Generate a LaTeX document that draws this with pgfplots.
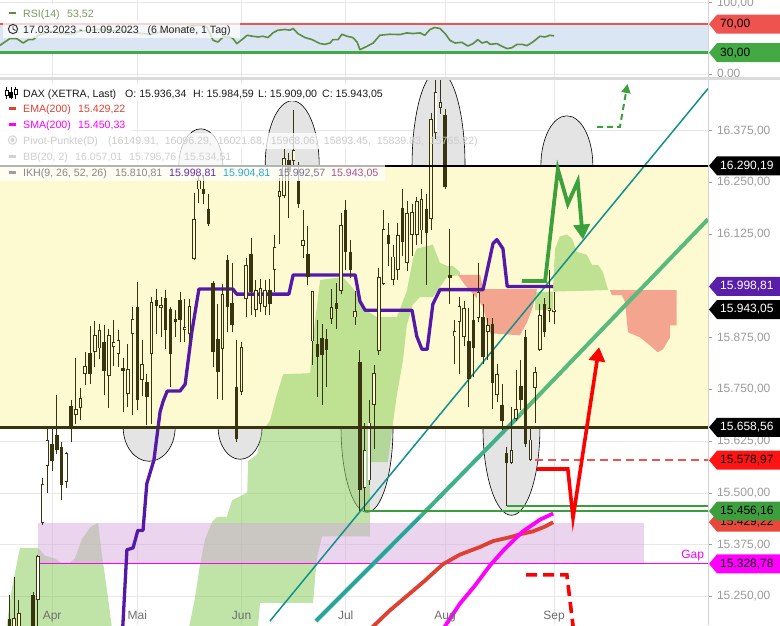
\documentclass[border=0pt]{standalone}
\usepackage{fontspec}
\setmainfont{Liberation Sans}
\usepackage{pgfplots}
\pgfplotsset{compat=1.18}
\usetikzlibrary{arrows.meta}
\definecolor{band}{RGB}{253,250,210}
\definecolor{cdl}{RGB}{55,52,15}
\definecolor{ikhp}{RGB}{85,25,170}
\definecolor{cloudg}{RGB}{140,205,95}
\definecolor{cloudr}{RGB}{240,120,110}
\definecolor{lav}{RGB}{214,170,222}
\definecolor{tealA}{RGB}{15,145,140}
\definecolor{tealB}{RGB}{38,166,154}
\definecolor{tealC}{RGB}{62,176,138}
\definecolor{tealD}{RGB}{88,186,124}
\definecolor{ema}{RGB}{222,65,52}
\definecolor{mag}{RGB}{255,0,255}
\definecolor{gline}{RGB}{58,158,58}
\definecolor{ellg}{RGB}{228,228,228}
\definecolor{tickg}{RGB}{155,155,155}
\definecolor{gridg}{RGB}{232,232,232}
\definecolor{rsiblue}{RGB}{218,230,243}
\definecolor{rsired}{RGB}{239,83,80}
\definecolor{rsigreen}{RGB}{67,170,67}
\definecolor{rsiline}{RGB}{95,140,65}
\definecolor{arrg}{RGB}{60,160,60}
\definecolor{tagpurple}{RGB}{90,31,168}
\definecolor{tagred}{RGB}{255,20,20}
\definecolor{tagema}{RGB}{232,71,58}
\definecolor{taggreen}{RGB}{61,158,61}
\definecolor{monthg}{RGB}{110,110,110}
\newcommand\lf{\fontsize{10.6}{12}\selectfont}
\newcommand\tf{\fontsize{12}{14}\selectfont}
\pgfplotsset{
 wk/.style={draw=cdl, line width=0.9pt, forget plot},
 bdf/.style={draw=cdl, line width=3.4pt, forget plot},
 bdo/.style={draw=cdl, line width=3.6pt, forget plot},
 bdi/.style={draw=band, line width=1.8pt, shorten <=0.9pt, shorten >=0.9pt, forget plot},
 bdw/.style={draw=white, line width=1.8pt, shorten <=0.9pt, shorten >=0.9pt, forget plot},
}
% i, Open, High, Low, Close
\newcommand\cu[5]{\addplot[wk] coordinates {(#1,#3) (#1,#4)};\addplot[bdo] coordinates {(#1,#2) (#1,#5)};\addplot[bdi] coordinates {(#1,#2) (#1,#5)};}
\newcommand\cuw[5]{\addplot[wk] coordinates {(#1,#3) (#1,#4)};\addplot[bdo] coordinates {(#1,#2) (#1,#5)};\addplot[bdw] coordinates {(#1,#2) (#1,#5)};}
\newcommand\cd[5]{\addplot[wk] coordinates {(#1,#3) (#1,#4)};\addplot[bdf] coordinates {(#1,#2) (#1,#5)};}
\newcommand\tagbox[4]{%
 \fill[#2] ([xshift=1pt]#1) -- ++(8pt,9.5pt) -- ++(80pt,0) -- ++(0,-19pt) -- ++(-80pt,0) -- cycle;
 \node[anchor=west, text=#3, font=\tf, inner sep=0pt] at ([xshift=12pt]#1) {#4};}
\begin{document}
\begin{tikzpicture}
\path[use as bounding box] (0,0) rectangle (780pt,-625pt);
% ================= MAIN PANEL =================
\begin{axis}[
 anchor=north west, at={(0pt,-80pt)},
 scale only axis, width=708pt, height=545pt,
 xmin=0, xmax=149.5, ymin=15180.9, ymax=16497.5,
 clip mode=individual,
 axis line style={draw=none},
 xtick={11,29,51,73,94,117}, xticklabels={,,,,,},
 xtick style={draw=none},
 ytick={15250,15375,15500,15625,15750,15875,16000,16125,16250,16375,16500},
 yticklabels={{15.250,00},{15.375,00},{15.500,00},{15.625,00},{15.750,00},{15.875,00},{},{16.125,00},{16.250,00},{16.375,00},{16.500,00}},
 ytick pos=right, yticklabel pos=right,
 tick align=outside, major tick length=4pt,
 ytick style={tickg, line width=0.6pt},
 yticklabel style={font=\tf, text=tickg, xshift=1.5pt},
 grid=major, major grid style={gridg, line width=0.7pt},
 scaled y ticks=false,
]
% ellipses
\begin{scope}
\clip (rel axis cs:0,0) rectangle (rel axis cs:1,1);
\filldraw[fill=ellg, draw=black, line width=0.6pt] (axis cs:42.4,16290.19) ellipse [x radius=22pt, y radius=37pt];
\filldraw[fill=ellg, draw=black, line width=0.6pt] (axis cs:61.7,16290.19) ellipse [x radius=27pt, y radius=65pt];
\filldraw[fill=ellg, draw=black, line width=0.6pt] (axis cs:92.6,16290.19) ellipse [x radius=26.5pt, y radius=95pt];
\filldraw[fill=ellg, draw=black, line width=0.6pt] (axis cs:119.7,16290.19) ellipse [x radius=26pt, y radius=50pt];
\filldraw[fill=ellg, draw=black, line width=0.6pt] (axis cs:31.5,15658.56) ellipse [x radius=26pt, y radius=34pt];
\filldraw[fill=ellg, draw=black, line width=0.6pt] (axis cs:50.7,15658.56) ellipse [x radius=22pt, y radius=32pt];
\filldraw[fill=ellg, draw=black, line width=0.6pt] (axis cs:77.5,15658.56) ellipse [x radius=26pt, y radius=85pt];
\filldraw[fill=ellg, draw=black, line width=0.6pt] (axis cs:108.0,15658.56) ellipse [x radius=28.5pt, y radius=88pt];
\end{scope}
% yellow band
\addplot[fill=band, draw=none, forget plot] coordinates {(0,15658.56) (149.5,15658.56) (149.5,16290.19) (0,16290.19)} -- cycle;
% ichimoku cloud
\addplot[fill=cloudg, fill opacity=0.55, draw=none, forget plot] coordinates {(1.06,15150) (2.53,15271.6) (4.22,15367.2) (8.02,15367.2) (9.5,15348.5) (11.6,15341.5) (13.1,15329.8) (14.4,15327.5) (15.8,15341.5) (17.3,15388.3) (19.0,15416.4) (20.7,15428.2) (21.5,15353.2) (22.8,15248.4) (23.9,15150)} -- cycle;
\addplot[fill=cloudg, fill opacity=0.55, draw=none, forget plot] coordinates {(39.5,15150) (41.2,15248.4) (42.2,15325.2) (43.3,15388.3) (44.8,15430.5) (45.8,15442.2) (47.9,15442.2) (49.0,15482.3) (50.7,15491.7) (52.2,15501.2) (52.4,15576.8) (54.3,15593.4) (55.3,15648.1) (57.0,15674.3) (58.4,15735) (59.8,15786.8) (65.5,15789.2) (66.1,15876.0) (67.6,16014.3) (72.4,16021.6) (74.3,15997.3) (76.0,15973.0) (76.6,15946.2) (79.6,15924.4) (83.8,15924.4) (85.9,15987.5) (87.2,16065.5) (88.0,16090.0) (91.4,16099.9) (92.9,16055.8) (94.4,16048.4) (95.6,16048.4) (97.1,16033.8) (97.1,16026.5) (94.4,16021.6) (91.4,15973.0) (88.7,15973.0) (87.2,15956.0) (85.9,15905.0) (85.1,15820.5) (83.8,15736.4) (83.0,15669.5) (81.9,15574.4) (78.1,15574.4) (78.1,15395) (68.0,15395) (66.9,15341.5) (66.1,15234.5) (54.9,15234.5) (54.3,15150)} -- cycle;
\addplot[fill=cloudr, fill opacity=0.65, draw=none, forget plot] coordinates {(96.7,16026.5) (101.4,16026.5) (102.0,15992.4) (113.4,15992.4) (112.5,15948.7) (111.3,15912.3) (109.8,15880.8) (103.5,15885.7) (102.8,15912.3) (102.0,15948.7) (100.5,15973.0) (98.2,16002.1)} -- cycle;
\addplot[fill=cloudg, fill opacity=0.55, draw=none, forget plot] coordinates {(113.0,15985.1) (113.0,15941.3) (116.8,15941.3) (116.8,16002.1) (117.2,16090.0) (118.2,16119.4) (119.7,16124.4) (120.8,16114.5) (121.8,16082.7) (123.9,16075.3) (125.0,16050.9) (126.3,16050.9) (127.3,16033.8) (128.4,15990.0)} -- cycle;
\addplot[fill=cloudr, fill opacity=0.65, draw=none, forget plot] coordinates {(128.8,15990.0) (142.9,15990.0) (142.9,15905.0) (141.5,15905.0) (141.5,15876.0) (140.0,15847.0) (138.9,15839.8) (137.2,15856.7) (135.1,15876.0) (132.6,15888.1) (132.0,15960.8) (131.3,15977.8) (129.2,15977.8)} -- cycle;
% gap zone
\addplot[fill=lav, fill opacity=0.5, draw=none, forget plot] coordinates {(8,15327.5) (136,15327.5) (136,15428.2) (8,15428.2)} -- cycle;
\addplot[mag, line width=1pt, forget plot] coordinates {(8,15328.78) (149.5,15328.78)};
% trend lines
\addplot[tealA, line width=1.5pt, forget plot] coordinates {(57.0,15190.4) (149.5,16476.7)};
\addplot[tealB, line width=4pt, forget plot] coordinates {(66.7,15190.4) (88.7,15442.2)};
\addplot[tealC, line width=4pt, forget plot] coordinates {(88.7,15442.2) (109.8,15688.6)};
\addplot[tealD, line width=4pt, forget plot] coordinates {(109.8,15688.6) (149.5,16161.2)};
% EMA / SMA
\addplot[ema, line width=3.8pt, line join=round, forget plot] coordinates {(78.1,15170) (82.3,15215.9) (86.6,15257.7) (89.7,15287.9) (93.5,15327.5) (97.1,15350.9) (101.4,15369.6) (104.1,15383.6) (107.7,15393.0) (109.8,15400.0) (112.5,15407.0) (115.1,15418.7) (116.8,15429.22)};
\addplot[mag, line width=3.8pt, line join=round, forget plot] coordinates {(93.5,15170) (97.1,15232.2) (100.3,15276.3) (103.5,15325.2) (106.6,15364.9) (110.4,15407.0) (114.0,15435.2) (116.8,15450.33)};
% IKH purple
\addplot[ikhp, line width=3.3pt, line join=round, forget plot] coordinates {(25.8,15150) (26.8,15362.6) (28.1,15367.2) (29.1,15409.4) (30.2,15409.4) (31.0,15522.4) (32.5,15579.2) (33.8,15695.8) (34.4,15719.7) (35.3,15746.0) (38.0,15746.0) (39.1,15762.8) (40.5,15888.1) (42.0,15992.4) (49.2,15992.4) (50.0,15980.2) (61.0,15980.2) (61.9,16026.5) (75.0,16026.5) (76.0,15963.2) (77.1,15941.3) (87.0,15941.3) (88.0,15878.4) (89.1,15847.0) (90.2,15847.0) (91.4,15956.0) (92.9,15991.1) (102.0,15991.1) (104.1,16102.3) (104.9,16112.1) (106.2,16090.0) (107.1,15998.8) (116.8,15998.81)};
% candles
\cd{2}{15196}{15253}{15050}{15120}
\cu{3}{15150}{15297}{15100}{15197}
\cu{4}{15150}{15241}{15120}{15209}
\cd{7}{15253}{15261}{15100}{15170}
\cuw{8}{15241}{15351}{15150}{15348}
\cuw{9}{15428}{15537}{15423}{15522}
\cuw{10}{15565}{15655}{15499}{15627}
\cd{11}{15619}{15655}{15553}{15577}
\cd{12}{15639}{15736}{15593}{15603}
\cd{13}{15610}{15624}{15482}{15518}
\cuw{14}{15527}{15600}{15511}{15596}
\cd{15}{15710}{15724}{15624}{15655}
\cu{16}{15689}{15825}{15667}{15703}
\cu{17}{15705}{15753}{15677}{15729}
\cu{18}{15787}{15840}{15760}{15806}
\cd{19}{15837}{15903}{15763}{15787}
\cu{20}{15840}{15915}{15804}{15881}
\cu{21}{15849}{15907}{15823}{15893}
\cd{22}{15864}{15905}{15736}{15794}
\cu{23}{15782}{15895}{15705}{15881}
\cu{24}{15852}{15917}{15806}{15864}
\cu{25}{15835}{15893}{15804}{15869}
\cd{26}{15801}{15825}{15696}{15794}
\cu{27}{15739}{15859}{15708}{15799}
\cu{28}{15883}{15949}{15689}{15920}
\cd{29}{15949}{16009}{15701}{15725}
\cu{30}{15772}{15869}{15734}{15811}
\cd{31}{15768}{15787}{15665}{15732}
\cu{32}{15835}{15973}{15667}{15961}
\cd{33}{15966}{15992}{15883}{15951}
\cu{34}{15946}{15973}{15876}{15954}
\cd{35}{15971}{15990}{15847}{15893}
\cd{36}{15944}{15949}{15756}{15835}
\cd{37}{15920}{15941}{15876}{15912}
\cd{38}{15966}{15985}{15864}{15917}
\cu{39}{15893}{15968}{15864}{15900}
\cu{40}{15883}{15968}{15859}{15951}
\cu{41}{16066}{16225}{16063}{16161}
\cu{42}{16233}{16270}{16201}{16255}
\cd{43}{16235}{16262}{16198}{16223}
\cd{44}{16186}{16223}{16144}{16149}
\cd{45}{16007}{16012}{15804}{15840}
\cd{46}{15871}{15956}{15727}{15792}
\cu{47}{15847}{16005}{15725}{15980}
\cd{48}{16063}{16075}{15888}{15949}
\cd{49}{15958}{16056}{15888}{15905}
\cd{50}{15756}{15869}{15622}{15631}
\cu{51}{15744}{15864}{15736}{15852}
\cu{52}{15968}{16068}{15924}{16051}
\cd{53}{16078}{16115}{15929}{15985}
\cu{54}{15941}{16014}{15924}{15990}
\cu{55}{15956}{16017}{15937}{15995}
\cu{56}{15949}{16014}{15929}{15990}
\cd{57}{15990}{16017}{15929}{15956}
\cu{58}{16039}{16124}{15985}{16095}
\cu{59}{16215}{16260}{16102}{16230}
\cu{60}{16218}{16332}{16213}{16310}
\cd{61}{16305}{16322}{16164}{16275}
\cu{62}{16302}{16424}{16287}{16329}
\cd{63}{16253}{16300}{16188}{16198}
\cu{64}{16097}{16183}{16068}{16110}
\cd{65}{16078}{16144}{16002}{16022}
\cu{66}{15866}{15988}{15809}{15988}
\cd{67}{15859}{15917}{15732}{15828}
\cd{68}{15874}{15908}{15713}{15833}
\cd{69}{15871}{15895}{15756}{15845}
\cu{70}{15920}{15992}{15908}{15949}
\cd{71}{15958}{16007}{15895}{15944}
\cu{72}{15988}{16176}{15980}{16147}
\cd{73}{16183}{16208}{16039}{16083}
\cd{74}{16083}{16110}{16020}{16039}
\cu{75}{15924}{15988}{15905}{15939}
\cd{76}{15816}{15845}{15456}{15506}
\cuw{77}{15511}{15670}{15456}{15603}
\cuw{78}{15530}{15725}{15518}{15670}
\cu{79}{15713}{15809}{15605}{15789}
\cu{80}{15842}{16044}{15833}{16022}
\cu{81}{16005}{16183}{16002}{16137}
\cd{82}{16124}{16151}{16048}{16102}
\cu{83}{16014}{16100}{16002}{16071}
\cu{84}{16039}{16151}{16014}{16124}
\cd{85}{16188}{16235}{16073}{16107}
\cu{86}{16056}{16206}{16036}{16176}
\cu{87}{16124}{16198}{16073}{16179}
\cu{88}{16124}{16215}{16100}{16206}
\cu{89}{16134}{16235}{16102}{16211}
\cd{90}{16186}{16223}{16002}{16129}
\cu{91}{16161}{16417}{16134}{16404}
\cuw{92}{16369}{16530}{16354}{16469}
\cuw{93}{16429}{16520}{16416}{16444}
\cd{94}{16414}{16427}{16235}{16240}
\cd{95}{16027}{16137}{15956}{16019}
\cu{96}{15878}{15917}{15811}{15891}
\cu{97}{15912}{15973}{15787}{15951}
\cu{98}{15876}{15963}{15854}{15946}
\cd{99}{15866}{15946}{15708}{15775}
\cd{100}{15917}{15980}{15780}{15849}
\cu{101}{15922}{16056}{15912}{15985}
\cd{102}{15924}{15956}{15811}{15828}
\cu{103}{15888}{15922}{15821}{15905}
\cd{104}{15908}{15922}{15703}{15765}
\cu{105}{15736}{15811}{15720}{15787}
\cd{106}{15713}{15763}{15653}{15674}
\cd{107}{15596}{15612}{15468}{15572}
\cuw{108}{15572}{15708}{15570}{15603}
\cu{109}{15679}{15796}{15674}{15703}
\cd{110}{15758}{15821}{15701}{15725}
\cd{111}{15876}{15893}{15612}{15617}
\cuw{112}{15579}{15662}{15577}{15629}
\cu{113}{15753}{15804}{15670}{15792}
\cu{114}{15845}{15956}{15842}{15929}
\cd{115}{15956}{15971}{15876}{15888}
\cu{116}{15939}{16039}{15912}{15946}
\cu{117}{15936.34}{15984.59}{15909.00}{15943.05}
% band borders
\addplot[black, line width=2.6pt, forget plot] coordinates {(0,16290.19) (149.5,16290.19)};
\addplot[cdl, line width=3pt, forget plot] coordinates {(0,15658.56) (149.5,15658.56)};
% horizontal markers
\addplot[gline, line width=2.6pt, forget plot] coordinates {(77,15456.16) (149.5,15456.16)};
\addplot[gline, line width=2pt, forget plot] coordinates {(107,15468) (149.5,15468)};
\addplot[rsired, line width=2pt, dash pattern=on 8pt off 5pt, forget plot] coordinates {(113,15578.97) (149.5,15578.97)};
% arrows
\addplot[arrg, line width=3.8pt, line join=miter, -{Triangle[length=15pt,width=16pt]}, forget plot] coordinates {(110.2,16011.8) (115.1,16011.8) (117.8,16282.2) (119.9,16198.2) (122.0,16252.5) (123.1,16112.1)};
\addplot[arrg, line width=2pt, dash pattern=on 6pt off 4pt, -{Triangle[length=9pt,width=9pt]}, forget plot] coordinates {(126.1,16384.1) (130.9,16384.1) (132.5,16488)};
\addplot[red, line width=3.6pt, line join=miter, -{Triangle[length=14pt,width=16pt]}, forget plot] coordinates {(113.4,15557.8) (119.9,15557.8) (121.0,15439.9) (126.5,15852)};
\addplot[red, line width=3.6pt, dash pattern=on 11pt off 6pt, forget plot] coordinates {(111.1,15301.9) (119.7,15301.9) (121.2,15160)};
% right axis line
\draw[gridg!80!gray, line width=0.8pt] (rel axis cs:1,0) -- (rel axis cs:1,1);
% month labels
\node[anchor=base, font=\tf, text=monthg, inner sep=0pt] at ([yshift=6pt]axis cs:11,15180.9) {Apr};
\node[anchor=base, font=\tf, text=monthg, inner sep=0pt] at ([yshift=6pt]axis cs:29,15180.9) {Mai};
\node[anchor=base, font=\tf, text=monthg, inner sep=0pt] at ([yshift=6pt]axis cs:51,15180.9) {Jun};
\node[anchor=base, font=\tf, text=monthg, inner sep=0pt] at ([yshift=6pt]axis cs:73,15180.9) {Jul};
\node[anchor=base, font=\tf, text=monthg, inner sep=0pt] at ([yshift=6pt]axis cs:94,15180.9) {Aug};
\node[anchor=base, font=\tf, text=monthg, inner sep=0pt] at ([yshift=6pt]axis cs:117,15180.9) {Sep};
\node[anchor=south east, font=\tf, text=mag, inner sep=0pt] at ([yshift=3pt]axis cs:148.7,15328.78) {Gap};
% tag anchors
\coordinate (tA) at (axis cs:149.5,16290.19);
\coordinate (tB) at (axis cs:149.5,15998.81);
\coordinate (tC) at (axis cs:149.5,15943.05);
\coordinate (tD) at (axis cs:149.5,15658.56);
\coordinate (tE) at (axis cs:149.5,15578.97);
\coordinate (tF) at (axis cs:149.5,15429.22);
\coordinate (tG) at (axis cs:149.5,15456.16);
\coordinate (tH) at (axis cs:149.5,15328.78);
\end{axis}
% ================= RSI PANEL =================
\begin{axis}[
 anchor=north west, at={(0pt,0pt)},
 scale only axis, width=708pt, height=76.5pt,
 xmin=0, xmax=149.5, ymin=-3.5, ymax=103.9,
 clip mode=individual,
 axis line style={draw=none},
 xtick={11,29,51,73,94,117}, xticklabels={,,,,,},
 xtick style={draw=none},
 ytick={0,100}, yticklabels={{0,00},{100,00}},
 ytick pos=right, yticklabel pos=right,
 tick align=outside, major tick length=4pt,
 ytick style={tickg, line width=0.6pt},
 yticklabel style={font=\tf, text=tickg, xshift=1.5pt},
 grid=major, major grid style={gridg, line width=0.7pt},
]
\addplot[fill=rsiblue, draw=none, forget plot] coordinates {(0,30) (149.5,30) (149.5,70) (0,70)} -- cycle;
\addplot[rsired, line width=2pt, forget plot] coordinates {(0,70) (149.5,70)};
\addplot[rsigreen, line width=2.6pt, forget plot] coordinates {(0,30) (149.5,30)};
\addplot[rsiline, line width=1.6pt, line join=round, forget plot] coordinates {(0,40.3) (2.1,49.8) (3.5,49.8) (4.9,43.5) (6.0,48.3) (7.0,48.3) (8.1,54.4) (9.5,57.2) (11.0,60.1) (12.7,57.2) (14.8,55.8) (16.9,60.1) (19.0,61.5) (21.1,62.9) (23.2,60.1) (25.3,61.5) (27.4,58.7) (29.6,57.2) (31.7,55.8) (33.8,58.7) (35.9,60.1) (38.0,61.5) (40.1,67.1) (42.2,68.6) (43.7,65.7) (45.0,47.3) (46.0,44.9) (47.1,52.0) (48.6,52.0) (49.2,49.8) (50.0,42.7) (51.1,48.3) (52.2,54.4) (53.4,53.0) (54.5,52.0) (55.5,53.0) (56.6,51.2) (57.6,57.7) (58.7,61.5) (60.2,62.5) (61.2,61.5) (61.9,63.9) (62.9,56.8) (64.4,51.2) (65.9,48.3) (67.6,42.7) (68.6,41.7) (69.7,43.5) (70.3,48.3) (71.4,48.3) (72.2,55.8) (73.3,53.0) (74.5,51.2) (75.4,44.9) (76.0,34.2) (77.5,38.9) (78.8,43.5) (80.2,54.4) (82.3,55.8) (84.5,55.4) (85.9,57.7) (87.2,56.8) (88.7,57.7) (89.7,54.4) (90.8,62.5) (91.8,65.3) (92.9,63.9) (94.0,56.8) (95.0,47.3) (96.1,43.5) (97.5,44.5) (98.8,39.3) (99.9,42.7) (100.9,48.3) (101.8,43.5) (102.8,45.5) (103.5,41.7) (104.9,42.7) (106.0,38.9) (107.1,35.6) (108.1,37.0) (109.2,41.7) (110.2,41.7) (111.3,39.9) (112.5,44.9) (114.0,53.0) (115.1,52.0) (116.1,54.4) (117.0,53.52)};
\draw[gridg!80!gray, line width=0.8pt] (rel axis cs:1,0) -- (rel axis cs:1,1);
\coordinate (rA) at (axis cs:149.5,70);
\coordinate (rB) at (axis cs:149.5,30);
\end{axis}
% separator between panels
\fill[gray!28] (0pt,-76.5pt) rectangle (780pt,-80pt);
% RSI legend boxes
\fill[white, opacity=0.9] (3pt,-4pt) rectangle (100pt,-21pt);
\fill[white, opacity=0.75] (3pt,-21pt) rectangle (240pt,-37.5pt);
\fill[rsiline] (9pt,-11.8pt) rectangle (16pt,-14.4pt);
\node[anchor=base west, font=\lf, text=rsiline!85!white, inner sep=0pt] at (23pt,-17pt) {RSI(14)};
\node[anchor=base west, font=\lf, text=rsiline!85!white, inner sep=0pt] at (67pt,-17pt) {53,52};
\draw[black!80, line width=1pt] (13pt,-29pt) circle (4.6pt);
\draw[black!80, line width=0.9pt] (13pt,-26pt) -- (13pt,-29pt) -- (15.5pt,-30.5pt);
\node[anchor=base west, font=\lf, text=black!85, inner sep=0pt] at (23pt,-33pt) {17.03.2023 - 01.09.2023\ \ \ (6 Monate, 1 Tag)};
\tagbox{rA}{rsired}{black}{70,00}
\tagbox{rB}{rsigreen}{black}{30,00}
% main legend boxes
\fill[white, opacity=0.9] (0pt,-84pt) rectangle (395pt,-101pt);
\fill[white, opacity=0.9] (0pt,-101pt) rectangle (131pt,-117pt);
\fill[white, opacity=0.9] (0pt,-117pt) rectangle (133pt,-133pt);
\fill[white, opacity=0.75] (0pt,-133pt) rectangle (395pt,-149pt);
\fill[white, opacity=0.75] (0pt,-149pt) rectangle (237pt,-165pt);
\fill[white, opacity=0.7] (0pt,-165pt) rectangle (385pt,-181pt);
% candle icon
\draw[black, line width=0.8pt] (6.5pt,-87pt) -- (6.5pt,-99pt) (11pt,-87pt) -- (11pt,-99pt) (15.5pt,-87pt) -- (15.5pt,-99pt);
\filldraw[fill=white, draw=black, line width=0.8pt] (5pt,-90pt) rectangle (8pt,-95pt);
\filldraw[fill=black, draw=black, line width=0.8pt] (9.5pt,-92pt) rectangle (12.5pt,-97pt);
\filldraw[fill=white, draw=black, line width=0.8pt] (14pt,-89pt) rectangle (17pt,-94pt);
\node[anchor=base west, font=\lf, text=black!90, inner sep=0pt] at (23pt,-97pt) {DAX (XETRA, Last)};
\node[anchor=base west, font=\lf, text=black!90, inner sep=0pt] at (125pt,-97pt) {O: 15.936,34};
\node[anchor=base west, font=\lf, text=black!90, inner sep=0pt] at (193pt,-97pt) {H: 15.984,59};
\node[anchor=base west, font=\lf, text=black!90, inner sep=0pt] at (258pt,-97pt) {L: 15.909,00};
\node[anchor=base west, font=\lf, text=black!90, inner sep=0pt] at (322pt,-97pt) {C: 15.943,05};
\fill[ema] (9pt,-107.3pt) rectangle (16pt,-110pt);
\node[anchor=base west, font=\lf, text=ema, inner sep=0pt] at (23pt,-112.5pt) {EMA(200)};
\node[anchor=base west, font=\lf, text=ema, inner sep=0pt] at (78pt,-112.5pt) {15.429,22};
\fill[mag] (9pt,-123pt) rectangle (16pt,-125.7pt);
\node[anchor=base west, font=\lf, text=mag, inner sep=0pt] at (23pt,-128pt) {SMA(200)};
\node[anchor=base west, font=\lf, text=mag, inner sep=0pt] at (78pt,-128pt) {15.450,33};
\draw[gray!35, line width=1pt] (12.5pt,-140pt) circle (4.2pt);
\fill[gray!35] (12.5pt,-140pt) circle (2pt);
\node[anchor=base west, font=\lf, text=gray!40, inner sep=0pt] at (23pt,-144pt) {Pivot-Punkte(D)};
\node[anchor=base west, font=\lf, text=gray!40, inner sep=0pt] at (108pt,-144pt) {(16149.91,\ \ 16096.29,\ \ 16021.68,\ \ 15968.06,\ \ 15893.45,\ \ 15839.83,\ \ 15765.22)};
\fill[gray!35] (9pt,-155.3pt) rectangle (16pt,-158pt);
\node[anchor=base west, font=\lf, text=gray!38, inner sep=0pt] at (23pt,-160.5pt) {BB(20, 2)};
\node[anchor=base west, font=\lf, text=gray!38, inner sep=0pt] at (75pt,-160.5pt) {16.057,01};
\node[anchor=base west, font=\lf, text=gray!38, inner sep=0pt] at (129pt,-160.5pt) {15.795,76};
\node[anchor=base west, font=\lf, text=gray!38, inner sep=0pt] at (184pt,-160.5pt) {15.534,51};
\fill[gray!75] (9pt,-171pt) rectangle (16pt,-173.7pt);
\node[anchor=base west, font=\lf, text=gray!95, inner sep=0pt] at (23pt,-176pt) {IKH(9, 26, 52, 26)};
\node[anchor=base west, font=\lf, text=gray!95, inner sep=0pt] at (115pt,-176pt) {15.810,81};
\node[anchor=base west, font=\lf, text={rgb,255:red,100;green,40;blue,185}, inner sep=0pt] at (169pt,-176pt) {15.998,81};
\node[anchor=base west, font=\lf, text={rgb,255:red,40;green,170;blue,210}, inner sep=0pt] at (223pt,-176pt) {15.904,81};
\node[anchor=base west, font=\lf, text={rgb,255:red,120;green,110;blue,150}, inner sep=0pt] at (278pt,-176pt) {15.992,57};
\node[anchor=base west, font=\lf, text={rgb,255:red,170;green,80;blue,150}, inner sep=0pt] at (331pt,-176pt) {15.943,05};
% price tags
\tagbox{tA}{black}{white}{16.290,19}
\tagbox{tB}{tagpurple}{white}{15.998,81}
\tagbox{tC}{black}{white}{15.943,05}
\tagbox{tD}{black}{white}{15.658,56}
\tagbox{tE}{tagred}{black}{15.578,97}
\tagbox{tF}{tagema}{black}{15.429,22}
\tagbox{tG}{taggreen}{black}{15.456,16}
\tagbox{tH}{mag}{black}{15.328,78}
\end{tikzpicture}
\end{document}
